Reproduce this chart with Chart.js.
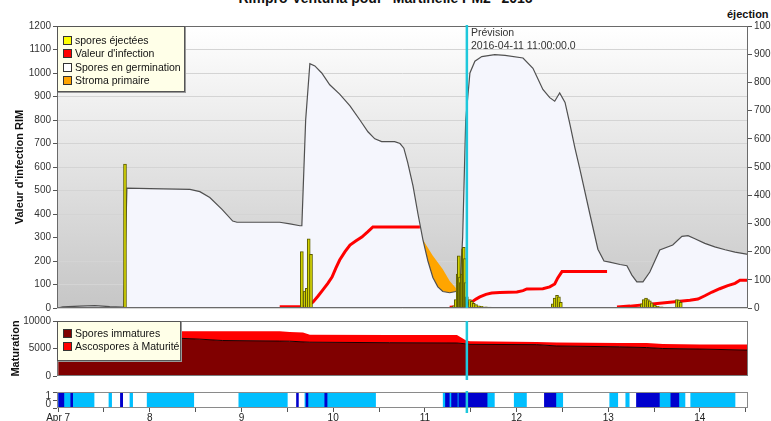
<!DOCTYPE html>
<html>
<head>
<meta charset="utf-8">
<script src="https://cdn.jsdelivr.net/npm/chart.js@4.4.1/dist/chart.umd.min.js"></script>
<style>
  html, body { margin: 0; padding: 0; background: #fff; }
  body { position: relative; width: 771px; height: 421px; overflow: hidden; font-family: 'Liberation Sans', Arial, sans-serif; color: #222; }
  canvas { position: absolute; left: 0; }
  .txt { position: absolute; white-space: nowrap; }
  .legend { position: absolute; box-sizing: border-box; background: #ffffe8; border: 1px solid #555; box-shadow: 1px 1px 0 #999; font-size: 10.5px; line-height: 13.3px; color: #111; }
  .legend .sw { display: inline-block; box-sizing: border-box; width: 9px; height: 9px; border: 1px solid #333; margin: 0 3px 0 5px; vertical-align: -1px; }
</style>
</head>
<body>
<div class="txt" style="left:0;top:-9px;width:771px;text-align:center;font:bold 14px 'Liberation Sans', Arial, sans-serif;line-height:14px;color:#111">Rimpro-Venturia pour "Martinelle PM2" 2016</div>
<div class="txt" style="left:727px;top:8px;font:bold 11px 'Liberation Sans', Arial, sans-serif;line-height:12px;color:#111">éjection</div>

<canvas id="mainChart" width="771" height="316" style="top:0"></canvas>
<canvas id="matChart" width="771" height="72" style="top:312px"></canvas>
<canvas id="wetChart" width="771" height="37" style="top:384px"></canvas>

<div class="txt" style="left:471px;top:26px;font-size:10.5px;line-height:12.5px;color:#333">Prévision<br>2016-04-11 11:00:00.0</div>

<div class="legend" style="left:57px;top:26px;width:128px;height:66px;padding-top:7px">
  <div><span class="sw" style="background:#ffff00"></span>spores éjectées</div>
  <div><span class="sw" style="background:#ff0000"></span>Valeur d'infection</div>
  <div><span class="sw" style="background:#ffffff"></span>Spores en germination</div>
  <div><span class="sw" style="background:#ffa500"></span>Stroma primaire</div>
</div>
<div class="legend" style="left:57px;top:321px;width:124px;height:40px;padding-top:5px">
  <div><span class="sw" style="background:#800000"></span>Spores immatures</div>
  <div><span class="sw" style="background:#ff0000"></span>Ascospores à Maturité</div>
</div>

<script>
'use strict'

// x values are hours since 2016-04-07 00:00
const xMin = -0.3
const xMax = 180.6
const forecastHour = 107

// Spores en germination (left axis, RIM)
const germH = [0, 1.2, 5.7, 9.6, 13.5, 16.7, 17.2, 18.0, 24.0, 34.5, 37.1, 39.7, 42.9, 45.7, 46.8, 58.0, 60.7, 63.3, 63.8, 64.8, 65.9, 67.2, 69.0, 71.1, 73.7, 76.4, 79.0, 81.1, 82.9, 84.7, 88.1, 89.5, 90.5, 91.5, 92.9, 94.2, 95.5, 96.8, 98.1, 99.4, 100.7, 102.5, 104.1, 105.2, 105.9, 106.7, 107.8, 109.1, 110.9, 114.3, 117.0, 121.7, 124.3, 126.9, 128.7, 130.0, 131.3, 132.7, 134.0, 135.3, 136.6, 139.2, 141.3, 142.9, 144.4, 147.1, 148.9, 150.2, 151.5, 153.1, 154.9, 157.5, 160.9, 163.3, 164.9, 166.7, 169.3, 171.9, 174.6, 177.2, 180.6]
const germV = [0, 5, 8, 10, 6, 4, 4, 510, 508, 505, 495, 470, 420, 370, 365, 365, 358, 350, 350, 800, 1040, 1030, 1000, 950, 910, 860, 800, 750, 720, 708, 708, 700, 680, 620, 520, 400, 290, 200, 130, 90, 70, 65, 70, 90, 300, 800, 1000, 1050, 1070, 1078, 1075, 1064, 1020, 930, 895, 880, 915, 875, 780, 680, 590, 400, 250, 200, 195, 185, 180, 140, 111, 111, 153, 247, 268, 305, 308, 295, 275, 260, 248, 238, 228]

// Stroma primaire (top edge, shows above germination)
const stromaH = [95.2, 95.5, 98.0, 100.7, 102.5, 104.1, 104.4]
const stromaV = [0, 290, 225, 165, 115, 85, 0]

// Valeur d'infection (null = gap)
const redH = [58.0, 64.1, 65.4, 66.7, 68.0, 69.3, 70.6, 71.7, 72.7, 73.7, 75.1, 76.4, 77.9, 79.5, 81.1, 82.4, 94.7, 98.0, 102.5, 104.6, 105.9, 107.3, 108.3, 109.4, 110.4, 112.0, 113.5, 115.6, 120.1, 121.7, 122.7, 126.9, 128.7, 130.0, 130.8, 131.9, 143.7, 145.0, 146.3, 149.7, 153.6, 157.5, 161.5, 165.4, 167.5, 169.3, 171.2, 173.2, 175.3, 177.2, 178.5, 180.6]
const redV = [5, 5, 12, 25, 50, 77, 105, 132, 170, 204, 240, 268, 285, 302, 325, 345, 345, null, 3, 5, 8, 18, 26, 38, 47, 58, 64, 66, 68, 74, 81, 82, 90, 102, 128, 155, 155, null, 4, 8, 14, 20, 27, 33, 38, 52, 68, 82, 95, 105, 118, 118]

// spores éjectées (right axis)
const sporeH = [17.5, 63.8, 64.6, 65.1, 65.6, 66.2, 103.6, 104.1, 104.6, 104.9, 105.2, 105.4, 105.7, 106.0, 106.2, 106.5, 106.7, 107.0, 107.8, 108.3, 108.8, 109.4, 110.1, 110.9, 112.0, 113.0, 129.5, 130.0, 130.6, 131.1, 131.6, 152.8, 153.3, 153.9, 154.4, 154.9, 155.4, 156.2, 157.0, 158.0, 162.0, 162.5, 163.0]
const sporeV = [510, 200, 60, 70, 245, 190, 8, 30, 120, 185, 110, 90, 120, 210, 215, 175, 90, 40, 30, 24, 17, 12, 8, 6, 4, 3, 15, 35, 45, 40, 20, 15, 30, 35, 30, 25, 18, 10, 6, 4, 30, 28, 20]

// Maturation (stacked)
const matH = [0, 32.4, 37.1, 43.1, 58.0, 60.6, 64.1, 65.9, 86.8, 104.4, 106.7, 107.8, 125.3, 130.5, 147.0, 154.1, 158.3, 168.0, 180.6]
const immatureV = [6900, 6840, 6700, 6450, 6350, 6330, 6200, 6150, 6050, 6000, 5850, 5750, 5700, 5460, 5300, 5170, 5000, 4900, 4710]
const matureV = [1300, 1310, 1450, 1700, 1800, 1670, 1700, 1350, 1420, 1470, 650, 580, 500, 640, 700, 830, 800, 850, 1040]

// humectation bands [start, end] in hours
const lightBands = [[0, 9.4], [13.3, 14.0], [18.8, 19.5], [23.3, 35.5], [47.3, 60.0], [64.6, 83.1], [100.8, 114.2], [119.4, 122.6], [130.3, 132.1], [144.4, 146.5], [148.6, 149.5], [157.4, 164.1], [165.6, 177.2]]
const darkBands = [[0, 1.5], [3.3, 3.8], [16.3, 16.9], [62.4, 62.9], [64.9, 65.4], [69.8, 70.4], [101.4, 102.4], [103.0, 104.5], [104.9, 112.3], [127.3, 130.3], [151.4, 157.4], [160.4, 162.5]]

const dayLabels = ['Apr 7', '8', '9', '10', '11', '12', '13', '14']

Chart.defaults.font.family = "'Liberation Sans', Arial, sans-serif"
Chart.defaults.font.size = 10
Chart.defaults.color = '#333'
Chart.defaults.animation = false

const pts = (xs, ys) => xs.map((x, i) => ({ x, y: ys[i] }))
const plain = (v) => String(v)

function bgPlugin(top, bottom) {
  return {
    id: 'bg',
    beforeDraw(chart) {
      const { ctx, chartArea: a } = chart
      ctx.save()
      if (top === bottom) {
        ctx.fillStyle = top
      } else {
        const g = ctx.createLinearGradient(0, a.top, 0, a.bottom)
        g.addColorStop(0, top)
        g.addColorStop(1, bottom)
        ctx.fillStyle = g
      }
      ctx.fillRect(a.left, a.top, a.right - a.left, a.bottom - a.top)
      ctx.restore()
    },
  }
}

function framePlugin(color, extTop, extBottom) {
  return {
    id: 'frame',
    afterDatasetsDraw(chart) {
      const { ctx, chartArea: a } = chart
      ctx.save()
      ctx.strokeStyle = color
      ctx.lineWidth = 1
      const l = Math.round(a.left) + 0.5
      const r = Math.round(a.right) - 0.5
      const t = Math.round(a.top) + 0.5
      const b = Math.round(a.bottom) - 0.5
      ctx.strokeRect(l, t, r - l, b - t)
      // Prévision marker
      const x = chart.scales.x.getPixelForValue(forecastHour)
      ctx.strokeStyle = '#1ec8dc'
      ctx.lineWidth = 2.5
      ctx.beginPath()
      ctx.moveTo(x, a.top - extTop)
      ctx.lineTo(x, a.bottom + extBottom)
      ctx.stroke()
      ctx.restore()
    },
  }
}

const tickGrid = { drawOnChartArea: false, tickLength: 4, tickColor: '#555' }

new Chart(document.getElementById('mainChart'), {
  type: 'line',
  data: {
    datasets: [
      {
        type: 'bar',
        label: 'spores éjectées',
        data: pts(sporeH, sporeV),
        yAxisID: 'y2',
        backgroundColor: '#d2d200',
        borderColor: '#5c5c00',
        borderWidth: 1,
        barThickness: 3,
        order: 1,
      },
      {
        label: "Valeur d'infection",
        data: pts(redH, redV),
        borderColor: '#ff0000',
        borderWidth: 3,
        pointRadius: 0,
        fill: false,
        spanGaps: false,
        order: 2,
      },
      {
        label: 'Spores en germination',
        data: pts(germH, germV),
        borderColor: '#505050',
        borderWidth: 1.2,
        backgroundColor: '#f5f6fd',
        fill: 'origin',
        pointRadius: 0,
        order: 3,
      },
      {
        label: 'Stroma primaire',
        data: pts(stromaH, stromaV),
        borderWidth: 0,
        borderColor: 'rgba(0,0,0,0)',
        backgroundColor: '#ffa500',
        fill: 'origin',
        pointRadius: 0,
        order: 4,
      },
    ],
  },
  options: {
    responsive: false,
    layout: { padding: { top: 26, bottom: 8, left: 0, right: 0 } },
    plugins: { legend: { display: false }, tooltip: { enabled: false } },
    scales: {
      x: { type: 'linear', min: xMin, max: xMax, display: false, offset: false },
      y: {
        position: 'left',
        min: 0,
        max: 1200,
        ticks: { stepSize: 100, padding: 2, color: '#333', callback: plain },
        grid: { color: '#d4d4d4', tickLength: 4, tickColor: '#555' },
        border: { display: false },
        title: { display: true, text: "Valeur d'infection RIM", color: '#111', font: { size: 11, weight: 'bold' }, padding: { top: 13, bottom: 0 } },
        afterFit(s) { s.width = 57 },
      },
      y2: {
        position: 'right',
        min: 0,
        max: 1000,
        ticks: { stepSize: 100, padding: 2, color: '#333', callback: plain },
        grid: tickGrid,
        border: { display: false },
        afterFit(s) { s.width = 23 },
      },
    },
  },
  plugins: [bgPlugin('#ffffff', '#c6c6c6'), framePlugin('#6a6a6a', 1, 0)],
})

new Chart(document.getElementById('matChart'), {
  type: 'line',
  data: {
    datasets: [
      {
        label: 'Spores immatures',
        data: pts(matH, immatureV),
        backgroundColor: '#800000',
        borderColor: '#1a0000',
        borderWidth: 1,
        fill: 'origin',
        pointRadius: 0,
      },
      {
        label: 'Ascospores à Maturité',
        data: pts(matH, matureV),
        backgroundColor: '#ff0000',
        borderColor: '#ff0000',
        borderWidth: 0,
        fill: '-1',
        pointRadius: 0,
      },
    ],
  },
  options: {
    responsive: false,
    layout: { padding: { top: 9, bottom: 6, left: 0, right: 23 } },
    plugins: { legend: { display: false }, tooltip: { enabled: false } },
    scales: {
      x: { type: 'linear', min: xMin, max: xMax, display: false, offset: false },
      y: {
        stacked: true,
        min: 0,
        max: 10000,
        ticks: { stepSize: 5000, padding: 2, color: '#333', autoSkip: false, callback: plain },
        grid: tickGrid,
        border: { display: false },
        title: { display: true, text: 'Maturation', color: '#111', font: { size: 11, weight: 'bold' }, padding: { top: 9, bottom: 0 } },
        afterFit(s) { s.width = 57 },
      },
    },
  },
  plugins: [bgPlugin('#ffffff', '#ffffff'), framePlugin('#7a7a7a', 0, 4)],
})

new Chart(document.getElementById('wetChart'), {
  type: 'bar',
  data: {
    labels: ['w'],
    datasets: [
      { data: lightBands.map((b) => ({ x: b, y: 'w' })), backgroundColor: '#00bfff', order: 2 },
      { data: darkBands.map((b) => ({ x: b, y: 'w' })), backgroundColor: '#0000cd', order: 1 },
    ],
  },
  options: {
    responsive: false,
    indexAxis: 'y',
    datasets: { bar: { grouped: false, barPercentage: 1, categoryPercentage: 1, borderWidth: 0 } },
    layout: { padding: { top: 7, bottom: 0, left: 0, right: 23 } },
    plugins: { legend: { display: false }, tooltip: { enabled: false } },
    scales: {
      x: {
        type: 'linear',
        min: xMin,
        max: xMax,
        offset: false,
        afterBuildTicks(s) {
          const t = []
          for (let h = 0; h <= 180; h += 12) t.push({ value: h })
          s.ticks = t
        },
        ticks: {
          autoSkip: false,
          maxRotation: 0,
          padding: 0,
          color: '#222',
          callback: (v) => (v % 24 === 0 ? dayLabels[v / 24] : ''),
        },
        grid: tickGrid,
        border: { display: false },
        afterFit(s) { s.height = 13 },
      },
      y: { type: 'category', display: false },
      yt: {
        type: 'linear',
        position: 'left',
        min: 0,
        max: 1,
        ticks: { stepSize: 1, padding: 2, color: '#333', autoSkip: false, callback: plain },
        grid: tickGrid,
        border: { display: false },
        afterFit(s) { s.width = 57 },
      },
    },
  },
  plugins: [bgPlugin('#ffffff', '#ffffff'), framePlugin('#8a8a8a', 1, 5)],
})
</script>
</body>
</html>
